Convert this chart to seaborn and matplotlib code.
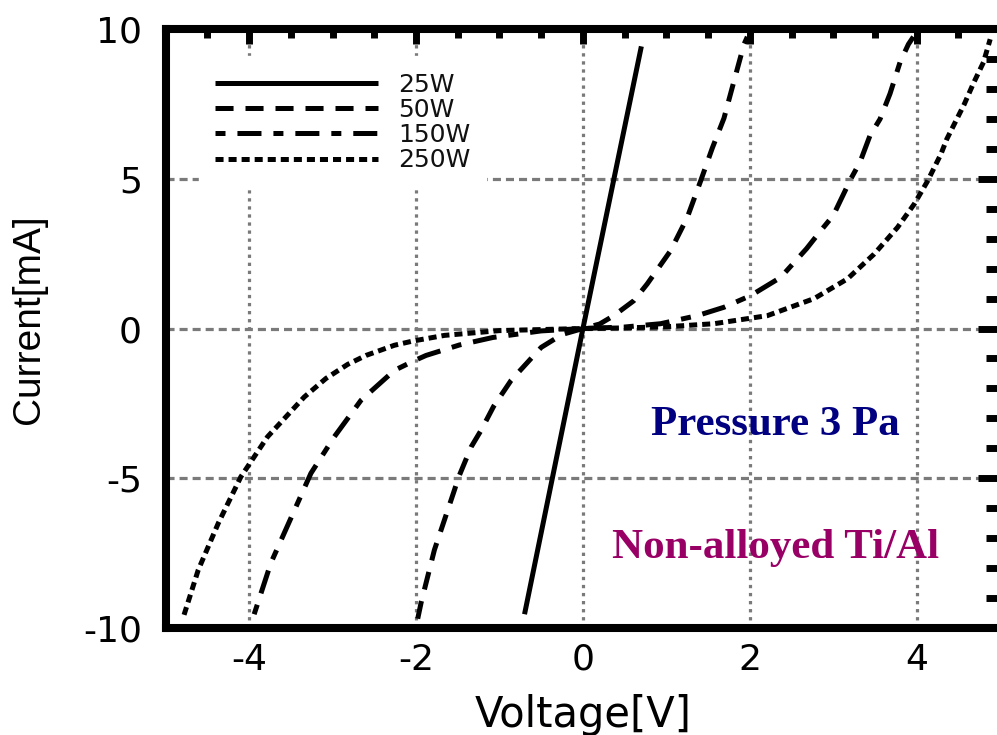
import matplotlib
matplotlib.use("Agg")
import matplotlib.pyplot as plt
import seaborn as sns
import pandas as pd
from matplotlib.ticker import MultipleLocator

# I-V characteristics of Ti/Al contacts for several sputtering powers
labels = ["25W", "50W", "150W", "250W"]

v_25 = [-0.70, 0.00, 0.70]
i_25 = [-9.55, 0.00, 9.43]

v_50 = [-1.98, -1.94, -1.78, -1.66, -1.54, -1.49, -1.34, -1.22, -1.07, -0.86,
        -0.50, -0.25, 0.00, 0.20, 0.37, 0.61, 0.77, 1.05, 1.25, 1.41, 1.55,
        1.69, 1.81, 1.93, 1.97]
i_50 = [-9.70, -9.17, -7.40, -6.40, -5.40, -4.97, -3.96, -3.40, -2.60, -1.73,
        -0.63, -0.20, 0.00, 0.15, 0.43, 0.93, 1.49, 2.60, 3.71, 4.93, 6.03,
        7.03, 8.27, 9.50, 9.75]

v_150 = [-3.94, -3.74, -3.58, -3.26, -2.98, -2.66, -2.26, -2.04, -1.88, -1.48,
         -1.08, -0.50, 0.00, 0.50, 0.93, 1.37, 1.69, 2.01, 2.37, 2.68, 2.85,
         3.00, 3.21, 3.32, 3.44, 3.56, 3.68, 3.80, 3.90, 3.96]
i_150 = [-9.55, -7.84, -6.84, -4.84, -3.62, -2.40, -1.40, -1.10, -0.90, -0.55,
         -0.30, -0.08, 0.00, 0.05, 0.16, 0.43, 0.71, 1.10, 1.71, 2.67, 3.27,
         3.78, 5.00, 5.56, 6.45, 7.00, 7.85, 8.90, 9.50, 9.75]

v_250 = [-4.78, -4.61, -4.37, -4.10, -3.78, -3.34, -3.08, -2.82, -2.60, -2.26,
         -2.04, -1.66, -1.00, 0.00, 0.50, 1.00, 1.57, 2.21, 2.77, 3.17, 3.49,
         3.77, 3.97, 4.13, 4.29, 4.36, 4.48, 4.57, 4.68, 4.80, 4.88]
i_250 = [-9.57, -8.07, -6.51, -4.96, -3.62, -2.29, -1.67, -1.20, -0.90, -0.56,
         -0.42, -0.23, -0.07, 0.00, 0.02, 0.06, 0.16, 0.43, 1.00, 1.66, 2.49,
         3.38, 4.16, 4.93, 5.83, 6.33, 7.00, 7.50, 8.20, 8.90, 9.67]

x_ticks = [-4, -2, 0, 2, 4]
y_ticks = [-10, -5, 0, 5, 10]

series = [(v_25, i_25), (v_50, i_50), (v_150, i_150), (v_250, i_250)]
line_styles = [
    "-",
    (0, (13.0, 8.6)),
    (0, (7.2, 8.6, 17.3, 8.6)),
    (0, (5.8, 3.6)),
]

sns.set_style("white")
plt.rcParams["font.family"] = ["DejaVu Sans"]
plt.rcParams["lines.scale_dashes"] = False
plt.rcParams["text.color"] = "black"
plt.rcParams["axes.labelcolor"] = "black"
plt.rcParams["xtick.color"] = "black"
plt.rcParams["ytick.color"] = "black"

fig = plt.figure(figsize=(9.97, 7.35), dpi=100)
ax = fig.add_axes([0.1662, 0.146, 0.8370, 0.8141])

for (v, cur), lab, ls in zip(series, labels, line_styles):
    df = pd.DataFrame({"Voltage": v, "Current": cur})
    sns.lineplot(data=df, x="Voltage", y="Current", ax=ax, color="black",
                 linewidth=3.6, linestyle=ls, label=lab, errorbar=None,
                 solid_capstyle="butt", dash_capstyle="butt")

ax.set_xlim(-5, 5)
ax.set_ylim(-10, 10)
ax.set_xticks(x_ticks)
ax.set_yticks(y_ticks)
ax.set_xticklabels([str(t) for t in x_ticks])
ax.set_yticklabels([str(t) for t in y_ticks])
ax.xaxis.set_minor_locator(MultipleLocator(0.5))
ax.yaxis.set_minor_locator(MultipleLocator(1))

# grid: dotted verticals, dashed horizontals
for xv in x_ticks:
    ax.axvline(xv, color="#7a7a7a", lw=2.3, ls=(0, (2.4, 3.4)), zorder=0.5)
for yv in [-5, 0, 5]:
    ax.axhline(yv, color="#7a7a7a", lw=2.3, ls=(0, (5.8, 3.6)), zorder=0.5)

for sp in ax.spines.values():
    sp.set_visible(True)
    sp.set_linewidth(5.8)
    sp.set_color("black")

ax.tick_params(axis="both", which="both", direction="in", top=True,
               right=True, width=5.0, color="black", labelcolor="black")
ax.tick_params(axis="x", which="major", length=11, labelsize=26, pad=11)
ax.tick_params(axis="x", which="minor", length=6.5)
ax.tick_params(axis="y", which="major", length=16, labelsize=26, pad=17)
ax.tick_params(axis="y", which="minor", length=10)

ax.set_xlabel("Voltage[V]", fontsize=30, labelpad=12)
ax.set_ylabel("Current[mA]", fontsize=28, family=["Liberation Sans"])
ax.yaxis.label.set_va("center")
ax.yaxis.set_label_coords(-0.164, 0.516)

leg = ax.legend(loc="upper left", bbox_to_anchor=(0.04, 0.955), fontsize=18,
                frameon=True, fancybox=False, framealpha=1, edgecolor="white",
                facecolor="white", handlelength=6.5, handletextpad=0.8,
                labelspacing=0.05, borderpad=0.65, borderaxespad=0)
for t in leg.get_texts():
    t.set_color("#111111")

ax.text(2.3, -3.55, "Pressure 3 Pa", color="#000080", fontsize=31,
        fontweight="bold", family=["Liberation Serif"], ha="center",
        va="baseline")
ax.text(2.31, -7.68, "Non-alloyed Ti/Al", color="#990066", fontsize=31,
        fontweight="bold", family=["Liberation Serif"], ha="center",
        va="baseline")

fig.savefig("out.png", dpi=100)
